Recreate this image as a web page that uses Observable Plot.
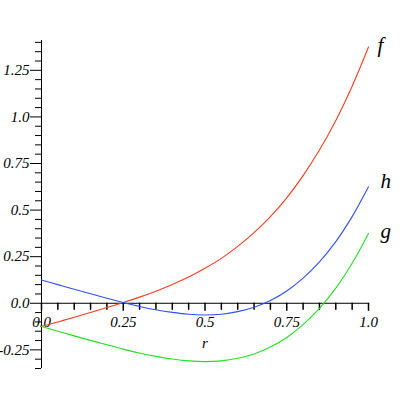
<!DOCTYPE html>
<html>
<head>
<meta charset="utf-8">
<script src="https://cdn.jsdelivr.net/npm/d3@7"></script>
<script src="https://cdn.jsdelivr.net/npm/@observablehq/plot@0.6"></script>
<style>
  html, body { margin: 0; padding: 0; background: #ffffff; }
  #chart svg text { font-family: "Liberation Serif", "Times New Roman", serif !important; font-style: italic !important; }
</style>
</head>
<body>
<div id="chart"></div>
<script>
// r values (sampled along the curves)
const rValues = [0, 0.05, 0.1, 0.15, 0.2, 0.25, 0.3, 0.35, 0.4, 0.45, 0.5,
                 0.55, 0.6, 0.65, 0.7, 0.75, 0.8, 0.85, 0.9, 0.95, 1.0];
// series values
const fValues = [-0.125, -0.100, -0.075, -0.049, -0.023, 0.004, 0.033, 0.065, 0.101, 0.141, 0.188,
                 0.241, 0.305, 0.379, 0.465, 0.566, 0.685, 0.822, 0.981, 1.165, 1.375];
const hValues = [0.125, 0.100, 0.075, 0.051, 0.027, 0.004, -0.017, -0.035, -0.049, -0.059, -0.063,
                 -0.059, -0.045, -0.021, 0.015, 0.066, 0.135, 0.222, 0.331, 0.465, 0.625];
const gValues = [-0.125, -0.150, -0.175, -0.199, -0.223, -0.246, -0.267, -0.285, -0.299, -0.309, -0.313,
                 -0.309, -0.295, -0.272, -0.235, -0.184, -0.115, -0.028, 0.081, 0.215, 0.375];
const seriesNames = ["f", "h", "g"];
const seriesColors = ["#ff3b1e", "#3050ff", "#22e022"];

// tick values and labels
const xMajorTicks = [0, 0.25, 0.5, 0.75, 1.0];
const xMajorLabels = ["0.0", "0.25", "0.5", "0.75", "1.0"];
const xMinorTicks = [0.05, 0.1, 0.15, 0.2, 0.3, 0.35, 0.4, 0.45, 0.55, 0.6, 0.65, 0.7, 0.8, 0.85, 0.9, 0.95];
const yMajorTicks = [-0.25, 0, 0.25, 0.5, 0.75, 1.0, 1.25];
const yMajorLabels = ["-0.25", "0.0", "0.25", "0.5", "0.75", "1.0", "1.25"];
const yMinorTicks = [-0.35, -0.3, -0.2, -0.15, -0.1, -0.05, 0.05, 0.1, 0.15, 0.2, 0.3, 0.35, 0.4, 0.45,
                     0.55, 0.6, 0.65, 0.7, 0.8, 0.85, 0.9, 0.95, 1.05, 1.1, 1.15, 1.2, 1.3, 1.35, 1.4];
const axisLabel = "r";

const allSeries = [fValues, hValues, gValues];
const rows = [];
seriesNames.forEach((name, i) => {
  rValues.forEach((r, j) => rows.push({series: name, r, v: allSeries[i][j]}));
});
const ends = seriesNames.map((name, i) => ({series: name, r: rValues[rValues.length - 1], v: allSeries[i][allSeries[i].length - 1]}));

const tickShape = {draw(context, l) { context.moveTo(0, 0); context.lineTo(0, -l); }};
const serif = "Liberation Serif, Times New Roman, serif";
const textStyle = {fill: "#000", fontFamily: serif, fontStyle: "italic"};

const chart = Plot.plot({
  width: 409,
  height: 409,
  marginLeft: 41,
  marginRight: 41,
  marginTop: 40,
  marginBottom: 41,
  style: {fontFamily: serif, fontStyle: "italic", fontSize: "15px", background: "#ffffff", color: "#000"},
  x: {domain: [0, 1], axis: null},
  y: {domain: [-0.35, 1.41], axis: null},
  color: {domain: seriesNames, range: seriesColors},
  marks: [
    // y axis
    Plot.ruleX([0], {stroke: "#000", strokeWidth: 1}),
    Plot.axisY(yMinorTicks, {anchor: "left", tickSize: 6, text: null, label: null, stroke: "#000"}),
    Plot.axisY(yMajorTicks, {anchor: "left", tickSize: 11, tickPadding: 1, label: null, stroke: "#000",
      tickFormat: d => yMajorLabels[yMajorTicks.indexOf(d)], fontSize: 15, ...textStyle}),
    // x axis at y = 0
    Plot.ruleY([0], {stroke: "#000", strokeWidth: 1}),
    Plot.vector(xMinorTicks, {x: d => d, y: 0, length: 6, rotate: 180, anchor: "start", shape: tickShape, stroke: "#000"}),
    Plot.vector(xMajorTicks, {x: d => d, y: 0, length: 7, rotate: 180, anchor: "start", shape: tickShape, stroke: "#000"}),
    Plot.text(xMajorTicks, {x: d => d, y: 0, text: d => xMajorLabels[xMajorTicks.indexOf(d)], dy: 19, fontSize: 15, ...textStyle}),
    Plot.text([axisLabel], {x: 0.5, y: 0, text: d => d, dy: 40, fontSize: 15, ...textStyle}),
    // curves
    Plot.line(rows, {x: "r", y: "v", z: "series", stroke: "series", strokeWidth: 1.1, curve: "catmull-rom"}),
    // curve labels
    Plot.text(ends.filter(d => d.series === "f"), {x: "r", y: "v", text: "series", dx: 9, dy: -2, textAnchor: "start", fontSize: 21, ...textStyle}),
    Plot.text(ends.filter(d => d.series === "g"), {x: "r", y: "v", text: "series", dx: 12, dy: -2, textAnchor: "start", fontSize: 21, ...textStyle}),
    Plot.text(ends.filter(d => d.series === "h"), {x: "r", y: "v", text: "series", dx: 12, dy: -6, textAnchor: "start", fontSize: 21, ...textStyle})
  ]
});
document.getElementById("chart").appendChild(chart);
</script>
</body>
</html>
